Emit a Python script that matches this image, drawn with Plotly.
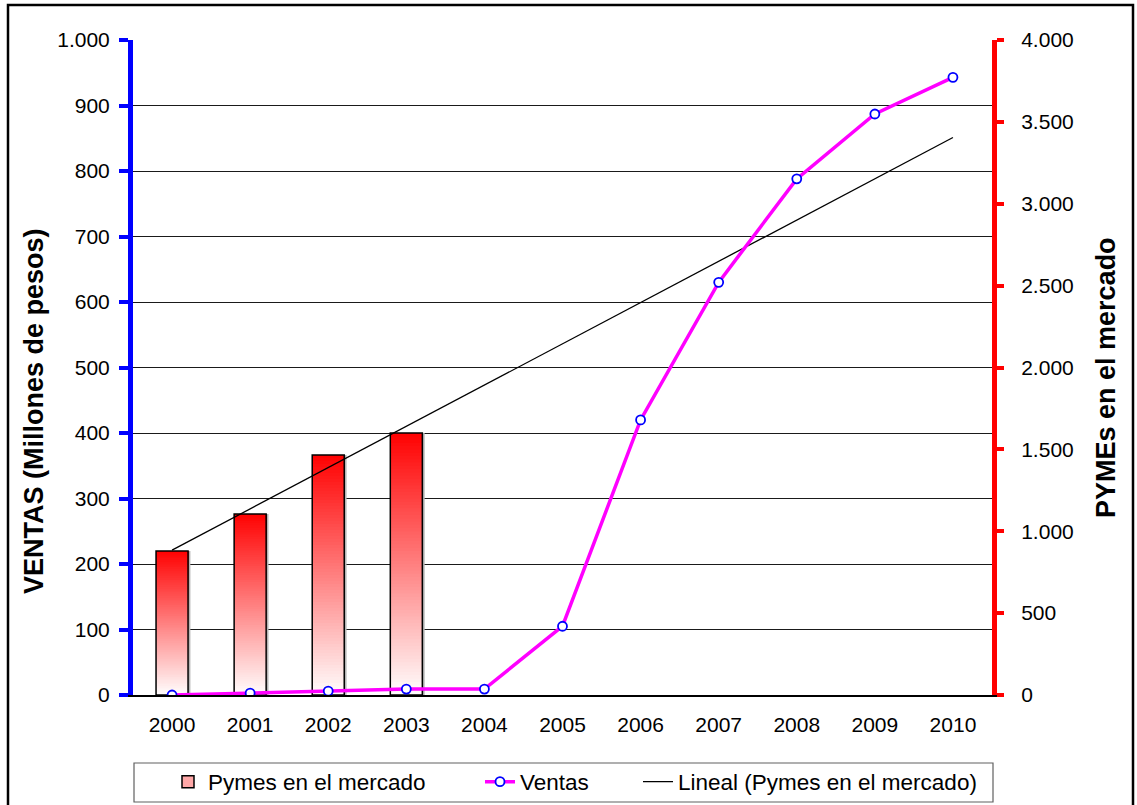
import numpy as np
import plotly.graph_objects as go

# ---- data ----
years = list(range(2000, 2011))
ventas = [0, 3, 6, 9, 9, 105, 420, 630, 788, 887, 943]          # millones de pesos
pymes_years = [2000, 2001, 2002, 2003]
pymes = [880, 1105, 1465, 1600]                                   # PYMEs en el mercado
ventas_ticks = list(range(0, 1001, 100))
pymes_ticks = list(range(0, 4001, 500))

# linear trend of the PYMEs series, extended over every year
slope, intercept = np.polyfit(pymes_years, pymes, 1)
trend = [slope * y + intercept for y in years]

FONT = "Arial, Liberation Sans, sans-serif"
BAR_W = 0.41
N_STEPS = 80

W, H = 1137, 805
ML, MR, MT, MB = 133, 145, 40, 110
PW, PH = W - ML - MR, H - MT - MB


def px(x):
    """pixel column -> paper x"""
    return (x - ML) / PW


def py(y):
    """pixel row -> paper y"""
    return (H - MB - y) / PH


fig = go.Figure()

# soft shadow behind the bars
fig.add_trace(go.Bar(
    x=pymes_years, y=pymes, width=BAR_W, offset=-BAR_W / 2 + 0.03,
    marker=dict(color="#b4b4b4", line_width=0), yaxis="y",
    showlegend=False, hoverinfo="skip"))

# vertical white -> red gradient: each slice runs from its start to the top,
# later (redder) slices cover the upper part of earlier ones
for k in range(N_STEPS):
    f = k / N_STEPS
    g = int(round(252 * (1 - f)))
    fig.add_trace(go.Bar(
        x=pymes_years, y=[v * (1 - f) for v in pymes],
        base=[v * f for v in pymes], width=BAR_W,
        marker=dict(color=f"rgb(255,{g},{g})", line_width=0), yaxis="y",
        showlegend=False, hoverinfo="skip"))

# bar outlines
fig.add_trace(go.Bar(
    x=pymes_years, y=pymes, width=BAR_W,
    marker=dict(color="rgba(0,0,0,0)", line=dict(color="#000000", width=1.5)),
    yaxis="y", showlegend=False, name="Pymes en el mercado"))

# legend entry for the bars
fig.add_trace(go.Bar(
    x=[None], y=[None], name="Pymes en el mercado", yaxis="y",
    marker=dict(color="#ffa8a8", line=dict(color="#000000", width=1.5)),
    legend="legend"))

# linear trend
fig.add_trace(go.Scatter(
    x=years, y=trend, mode="lines", name="Lineal (Pymes en el mercado)",
    line=dict(color="#000000", width=1.3), yaxis="y", legend="legend3"))

# sales line (left axis)
fig.add_trace(go.Scatter(
    x=years, y=ventas, mode="lines+markers", name="Ventas",
    line=dict(color="#ff00ff", width=3.5),
    marker=dict(symbol="circle", size=9, color="#ffffff",
                line=dict(color="#0000ff", width=1.8)),
    yaxis="y2", legend="legend2"))

x_range = [years[0] - 0.5, years[-1] + 0.5]
bounds = [y - 0.5 for y in years] + [years[-1] + 0.5]

legend_common = dict(orientation="h", font=dict(family=FONT, size=22.5, color="#000"),
                     bgcolor="rgba(0,0,0,0)", borderwidth=0,
                     xref="container", yref="container",
                     yanchor="middle", y=1 - 782 / H, xanchor="left")

fig.update_layout(
    width=W, height=H,
    margin=dict(l=ML, r=MR, t=MT, b=MB, autoexpand=False),
    paper_bgcolor="#ffffff", plot_bgcolor="#ffffff",
    separators=",.",
    barmode="overlay",
    font=dict(family=FONT, size=21, color="#000000"),
    xaxis=dict(range=x_range, tickvals=years, ticktext=[str(y) for y in years],
               ticks="", ticklabelstandoff=10, showgrid=False, zeroline=False,
               showline=True, linecolor="#000000", linewidth=1.5,
               tickfont=dict(size=21)),
    xaxis2=dict(overlaying="x", anchor="y", range=x_range, tickvals=bounds,
                ticks="outside", ticklen=6, tickwidth=1.5, tickcolor="#000",
                showticklabels=False, showgrid=False, zeroline=False, showline=False),
    xaxis3=dict(overlaying="x", anchor="y", range=x_range, tickvals=bounds,
                ticks="inside", ticklen=7, tickwidth=1.5, tickcolor="#000",
                showticklabels=False, showgrid=False, zeroline=False, showline=False),
    # right axis: PYMEs
    yaxis=dict(side="right", range=[0, 4000], tickvals=pymes_ticks, tickformat=",d",
               showgrid=False, zeroline=False, showline=True, linecolor="#ff0000",
               linewidth=5, ticks="outside", ticklen=7, tickwidth=4, tickcolor="#ff0000",
               ticklabelstandoff=13, tickfont=dict(size=21)),
    # left axis: ventas
    yaxis2=dict(side="left", overlaying="y", range=[0, 1000], tickvals=ventas_ticks,
                tickformat=",d", showgrid=True, gridcolor="#1a1a1a", gridwidth=1,
                zeroline=False, showline=True, linecolor="#0000ff", linewidth=5,
                ticks="outside", ticklen=9, tickwidth=4, tickcolor="#0000ff",
                ticklabelstandoff=5, tickfont=dict(size=21)),
    yaxis3=dict(side="left", overlaying="y", range=[0, 1000], tickvals=ventas_ticks,
                showticklabels=False, showgrid=False, zeroline=False, showline=False,
                ticks="inside", ticklen=8, tickwidth=4, tickcolor="#0000ff"),
    legend=dict(x=168 / W, **legend_common),
    legend2=dict(x=480 / W, **legend_common),
    legend3=dict(x=638 / W, **legend_common),
    showlegend=True,
    annotations=[
        dict(text="<b>VENTAS (Millones de pesos)</b>", textangle=-90,
             xref="paper", yref="paper", x=px(34), y=py(411),
             xanchor="center", yanchor="middle", showarrow=False,
             font=dict(family=FONT, size=27, color="#000")),
        dict(text="<b>PYMEs en el mercado</b>", textangle=-90,
             xref="paper", yref="paper", x=px(1106), y=py(378),
             xanchor="center", yanchor="middle", showarrow=False,
             font=dict(family=FONT, size=27, color="#000")),
    ],
    shapes=[
        # outer chart frame
        dict(type="rect", xref="paper", yref="paper",
             x0=px(8), x1=px(1133), y0=py(808), y1=py(5),
             line=dict(color="#000000", width=2.5), fillcolor="rgba(0,0,0,0)", layer="below"),
        # legend frame
        dict(type="rect", xref="paper", yref="paper",
             x0=px(134), x1=px(993), y0=py(802), y1=py(763),
             line=dict(color="#606060", width=1.2), fillcolor="rgba(0,0,0,0)", layer="below"),
    ],
)

fig.write_html("out.html")
